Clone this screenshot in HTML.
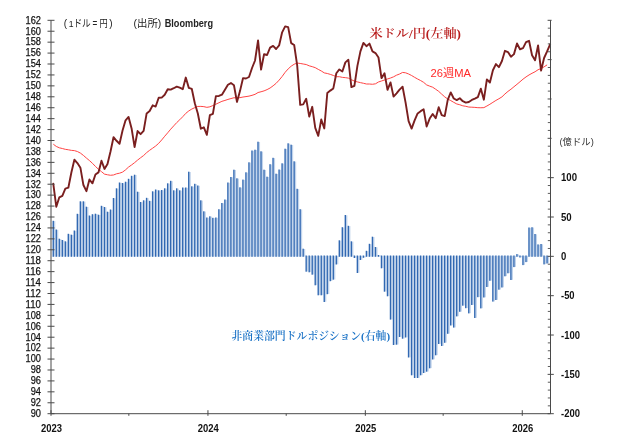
<!DOCTYPE html>
<html lang="ja"><head><meta charset="utf-8"><title>米ドル/円と非商業部門ドルポジション</title>
<style>html,body{margin:0;padding:0;background:#fff}svg{display:block}</style></head>
<body>
<svg width="624" height="439" viewBox="0 0 624 439">
<rect width="624" height="439" fill="#fff"/>
<g id="bars">
<rect x="53.90" y="221.10" width="1.4" height="35.50" fill="#c2d4eb"/>
<rect x="52.55" y="220.80" width="1.4" height="36.00" fill="#3168b2"/>
<rect x="56.91" y="229.80" width="1.4" height="26.80" fill="#c2d4eb"/>
<rect x="55.56" y="229.50" width="1.4" height="27.30" fill="#3168b2"/>
<rect x="59.92" y="239.00" width="1.4" height="17.60" fill="#c2d4eb"/>
<rect x="58.57" y="238.70" width="1.4" height="18.10" fill="#3168b2"/>
<rect x="62.93" y="240.30" width="1.4" height="16.30" fill="#c2d4eb"/>
<rect x="61.58" y="240.00" width="1.4" height="16.80" fill="#3168b2"/>
<rect x="65.94" y="241.60" width="1.4" height="15.00" fill="#c2d4eb"/>
<rect x="64.59" y="241.30" width="1.4" height="15.50" fill="#3168b2"/>
<rect x="68.95" y="234.10" width="1.4" height="22.50" fill="#c2d4eb"/>
<rect x="67.60" y="233.80" width="1.4" height="23.00" fill="#3168b2"/>
<rect x="71.97" y="235.00" width="1.4" height="21.60" fill="#c2d4eb"/>
<rect x="70.62" y="234.70" width="1.4" height="22.10" fill="#3168b2"/>
<rect x="74.98" y="230.80" width="1.4" height="25.80" fill="#c2d4eb"/>
<rect x="73.63" y="230.50" width="1.4" height="26.30" fill="#3168b2"/>
<rect x="77.99" y="214.10" width="1.4" height="42.50" fill="#c2d4eb"/>
<rect x="76.64" y="213.80" width="1.4" height="43.00" fill="#3168b2"/>
<rect x="81.00" y="201.60" width="1.4" height="55.00" fill="#c2d4eb"/>
<rect x="79.65" y="201.30" width="1.4" height="55.50" fill="#3168b2"/>
<rect x="84.01" y="201.60" width="1.4" height="55.00" fill="#c2d4eb"/>
<rect x="82.66" y="201.30" width="1.4" height="55.50" fill="#3168b2"/>
<rect x="87.02" y="207.00" width="1.4" height="49.60" fill="#c2d4eb"/>
<rect x="85.67" y="206.70" width="1.4" height="50.10" fill="#3168b2"/>
<rect x="90.03" y="215.80" width="1.4" height="40.80" fill="#c2d4eb"/>
<rect x="88.68" y="215.50" width="1.4" height="41.30" fill="#3168b2"/>
<rect x="93.04" y="214.50" width="1.4" height="42.10" fill="#c2d4eb"/>
<rect x="91.69" y="214.20" width="1.4" height="42.60" fill="#3168b2"/>
<rect x="96.05" y="214.00" width="1.4" height="42.60" fill="#c2d4eb"/>
<rect x="94.70" y="213.70" width="1.4" height="43.10" fill="#3168b2"/>
<rect x="99.06" y="215.00" width="1.4" height="41.60" fill="#c2d4eb"/>
<rect x="97.72" y="214.70" width="1.4" height="42.10" fill="#3168b2"/>
<rect x="102.08" y="206.10" width="1.4" height="50.50" fill="#c2d4eb"/>
<rect x="100.73" y="205.80" width="1.4" height="51.00" fill="#3168b2"/>
<rect x="105.09" y="207.30" width="1.4" height="49.30" fill="#c2d4eb"/>
<rect x="103.74" y="207.00" width="1.4" height="49.80" fill="#3168b2"/>
<rect x="108.10" y="212.00" width="1.4" height="44.60" fill="#c2d4eb"/>
<rect x="106.75" y="211.70" width="1.4" height="45.10" fill="#3168b2"/>
<rect x="111.11" y="209.80" width="1.4" height="46.80" fill="#c2d4eb"/>
<rect x="109.76" y="209.50" width="1.4" height="47.30" fill="#3168b2"/>
<rect x="114.12" y="198.30" width="1.4" height="58.30" fill="#c2d4eb"/>
<rect x="112.77" y="198.00" width="1.4" height="58.80" fill="#3168b2"/>
<rect x="117.13" y="188.60" width="1.4" height="68.00" fill="#c2d4eb"/>
<rect x="115.78" y="188.30" width="1.4" height="68.50" fill="#3168b2"/>
<rect x="120.14" y="182.80" width="1.4" height="73.80" fill="#c2d4eb"/>
<rect x="118.79" y="182.50" width="1.4" height="74.30" fill="#3168b2"/>
<rect x="123.15" y="183.30" width="1.4" height="73.30" fill="#c2d4eb"/>
<rect x="121.80" y="183.00" width="1.4" height="73.80" fill="#3168b2"/>
<rect x="126.16" y="182.00" width="1.4" height="74.60" fill="#c2d4eb"/>
<rect x="124.81" y="181.70" width="1.4" height="75.10" fill="#3168b2"/>
<rect x="129.17" y="179.10" width="1.4" height="77.50" fill="#c2d4eb"/>
<rect x="127.82" y="178.80" width="1.4" height="78.00" fill="#3168b2"/>
<rect x="132.19" y="176.10" width="1.4" height="80.50" fill="#c2d4eb"/>
<rect x="130.84" y="175.80" width="1.4" height="81.00" fill="#3168b2"/>
<rect x="135.20" y="175.00" width="1.4" height="81.60" fill="#c2d4eb"/>
<rect x="133.85" y="174.70" width="1.4" height="82.10" fill="#3168b2"/>
<rect x="138.21" y="192.00" width="1.4" height="64.60" fill="#c2d4eb"/>
<rect x="136.86" y="191.70" width="1.4" height="65.10" fill="#3168b2"/>
<rect x="141.22" y="202.30" width="1.4" height="54.30" fill="#c2d4eb"/>
<rect x="139.87" y="202.00" width="1.4" height="54.80" fill="#3168b2"/>
<rect x="144.23" y="200.60" width="1.4" height="56.00" fill="#c2d4eb"/>
<rect x="142.88" y="200.30" width="1.4" height="56.50" fill="#3168b2"/>
<rect x="147.24" y="198.10" width="1.4" height="58.50" fill="#c2d4eb"/>
<rect x="145.89" y="197.80" width="1.4" height="59.00" fill="#3168b2"/>
<rect x="150.25" y="201.10" width="1.4" height="55.50" fill="#c2d4eb"/>
<rect x="148.90" y="200.80" width="1.4" height="56.00" fill="#3168b2"/>
<rect x="153.26" y="191.60" width="1.4" height="65.00" fill="#c2d4eb"/>
<rect x="151.91" y="191.30" width="1.4" height="65.50" fill="#3168b2"/>
<rect x="156.27" y="189.80" width="1.4" height="66.80" fill="#c2d4eb"/>
<rect x="154.92" y="189.50" width="1.4" height="67.30" fill="#3168b2"/>
<rect x="159.28" y="190.60" width="1.4" height="66.00" fill="#c2d4eb"/>
<rect x="157.94" y="190.30" width="1.4" height="66.50" fill="#3168b2"/>
<rect x="162.30" y="190.30" width="1.4" height="66.30" fill="#c2d4eb"/>
<rect x="160.95" y="190.00" width="1.4" height="66.80" fill="#3168b2"/>
<rect x="165.31" y="188.60" width="1.4" height="68.00" fill="#c2d4eb"/>
<rect x="163.96" y="188.30" width="1.4" height="68.50" fill="#3168b2"/>
<rect x="168.32" y="183.60" width="1.4" height="73.00" fill="#c2d4eb"/>
<rect x="166.97" y="183.30" width="1.4" height="73.50" fill="#3168b2"/>
<rect x="171.33" y="181.10" width="1.4" height="75.50" fill="#c2d4eb"/>
<rect x="169.98" y="180.80" width="1.4" height="76.00" fill="#3168b2"/>
<rect x="174.34" y="190.60" width="1.4" height="66.00" fill="#c2d4eb"/>
<rect x="172.99" y="190.30" width="1.4" height="66.50" fill="#3168b2"/>
<rect x="177.35" y="188.60" width="1.4" height="68.00" fill="#c2d4eb"/>
<rect x="176.00" y="188.30" width="1.4" height="68.50" fill="#3168b2"/>
<rect x="180.36" y="190.60" width="1.4" height="66.00" fill="#c2d4eb"/>
<rect x="179.01" y="190.30" width="1.4" height="66.50" fill="#3168b2"/>
<rect x="183.37" y="187.80" width="1.4" height="68.80" fill="#c2d4eb"/>
<rect x="182.02" y="187.50" width="1.4" height="69.30" fill="#3168b2"/>
<rect x="186.38" y="187.80" width="1.4" height="68.80" fill="#c2d4eb"/>
<rect x="185.03" y="187.50" width="1.4" height="69.30" fill="#3168b2"/>
<rect x="189.40" y="172.00" width="1.4" height="84.60" fill="#c2d4eb"/>
<rect x="188.05" y="171.70" width="1.4" height="85.10" fill="#3168b2"/>
<rect x="192.41" y="186.60" width="1.4" height="70.00" fill="#c2d4eb"/>
<rect x="191.06" y="186.30" width="1.4" height="70.50" fill="#3168b2"/>
<rect x="195.42" y="184.10" width="1.4" height="72.50" fill="#c2d4eb"/>
<rect x="194.07" y="183.80" width="1.4" height="73.00" fill="#3168b2"/>
<rect x="198.43" y="185.80" width="1.4" height="70.80" fill="#c2d4eb"/>
<rect x="197.08" y="185.50" width="1.4" height="71.30" fill="#3168b2"/>
<rect x="201.44" y="200.60" width="1.4" height="56.00" fill="#c2d4eb"/>
<rect x="200.09" y="200.30" width="1.4" height="56.50" fill="#3168b2"/>
<rect x="204.45" y="211.60" width="1.4" height="45.00" fill="#c2d4eb"/>
<rect x="203.10" y="211.30" width="1.4" height="45.50" fill="#3168b2"/>
<rect x="207.46" y="217.80" width="1.4" height="38.80" fill="#c2d4eb"/>
<rect x="206.11" y="217.50" width="1.4" height="39.30" fill="#3168b2"/>
<rect x="210.47" y="216.60" width="1.4" height="40.00" fill="#c2d4eb"/>
<rect x="209.12" y="216.30" width="1.4" height="40.50" fill="#3168b2"/>
<rect x="213.48" y="218.10" width="1.4" height="38.50" fill="#c2d4eb"/>
<rect x="212.13" y="217.80" width="1.4" height="39.00" fill="#3168b2"/>
<rect x="216.49" y="217.80" width="1.4" height="38.80" fill="#c2d4eb"/>
<rect x="215.14" y="217.50" width="1.4" height="39.30" fill="#3168b2"/>
<rect x="219.51" y="209.50" width="1.4" height="47.10" fill="#c2d4eb"/>
<rect x="218.16" y="209.20" width="1.4" height="47.60" fill="#3168b2"/>
<rect x="222.52" y="203.30" width="1.4" height="53.30" fill="#c2d4eb"/>
<rect x="221.17" y="203.00" width="1.4" height="53.80" fill="#3168b2"/>
<rect x="225.53" y="199.80" width="1.4" height="56.80" fill="#c2d4eb"/>
<rect x="224.18" y="199.50" width="1.4" height="57.30" fill="#3168b2"/>
<rect x="228.54" y="182.80" width="1.4" height="73.80" fill="#c2d4eb"/>
<rect x="227.19" y="182.50" width="1.4" height="74.30" fill="#3168b2"/>
<rect x="231.55" y="177.30" width="1.4" height="79.30" fill="#c2d4eb"/>
<rect x="230.20" y="177.00" width="1.4" height="79.80" fill="#3168b2"/>
<rect x="234.56" y="170.00" width="1.4" height="86.60" fill="#c2d4eb"/>
<rect x="233.21" y="169.70" width="1.4" height="87.10" fill="#3168b2"/>
<rect x="237.57" y="178.60" width="1.4" height="78.00" fill="#c2d4eb"/>
<rect x="236.22" y="178.30" width="1.4" height="78.50" fill="#3168b2"/>
<rect x="240.58" y="187.60" width="1.4" height="69.00" fill="#c2d4eb"/>
<rect x="239.23" y="187.30" width="1.4" height="69.50" fill="#3168b2"/>
<rect x="243.59" y="179.90" width="1.4" height="76.70" fill="#c2d4eb"/>
<rect x="242.24" y="179.60" width="1.4" height="77.20" fill="#3168b2"/>
<rect x="246.60" y="172.60" width="1.4" height="84.00" fill="#c2d4eb"/>
<rect x="245.25" y="172.30" width="1.4" height="84.50" fill="#3168b2"/>
<rect x="249.61" y="162.60" width="1.4" height="94.00" fill="#c2d4eb"/>
<rect x="248.26" y="162.30" width="1.4" height="94.50" fill="#3168b2"/>
<rect x="252.63" y="150.80" width="1.4" height="105.80" fill="#c2d4eb"/>
<rect x="251.28" y="150.50" width="1.4" height="106.30" fill="#3168b2"/>
<rect x="255.64" y="150.00" width="1.4" height="106.60" fill="#c2d4eb"/>
<rect x="254.29" y="149.70" width="1.4" height="107.10" fill="#3168b2"/>
<rect x="258.65" y="142.00" width="1.4" height="114.60" fill="#c2d4eb"/>
<rect x="257.30" y="141.70" width="1.4" height="115.10" fill="#3168b2"/>
<rect x="261.66" y="151.60" width="1.4" height="105.00" fill="#c2d4eb"/>
<rect x="260.31" y="151.30" width="1.4" height="105.50" fill="#3168b2"/>
<rect x="264.67" y="170.00" width="1.4" height="86.60" fill="#c2d4eb"/>
<rect x="263.32" y="169.70" width="1.4" height="87.10" fill="#3168b2"/>
<rect x="267.68" y="177.00" width="1.4" height="79.60" fill="#c2d4eb"/>
<rect x="266.33" y="176.70" width="1.4" height="80.10" fill="#3168b2"/>
<rect x="270.69" y="164.50" width="1.4" height="92.10" fill="#c2d4eb"/>
<rect x="269.34" y="164.20" width="1.4" height="92.60" fill="#3168b2"/>
<rect x="273.70" y="158.10" width="1.4" height="98.50" fill="#c2d4eb"/>
<rect x="272.35" y="157.80" width="1.4" height="99.00" fill="#3168b2"/>
<rect x="276.71" y="174.00" width="1.4" height="82.60" fill="#c2d4eb"/>
<rect x="275.36" y="173.70" width="1.4" height="83.10" fill="#3168b2"/>
<rect x="279.73" y="169.80" width="1.4" height="86.80" fill="#c2d4eb"/>
<rect x="278.38" y="169.50" width="1.4" height="87.30" fill="#3168b2"/>
<rect x="282.74" y="163.60" width="1.4" height="93.00" fill="#c2d4eb"/>
<rect x="281.39" y="163.30" width="1.4" height="93.50" fill="#3168b2"/>
<rect x="285.75" y="149.00" width="1.4" height="107.60" fill="#c2d4eb"/>
<rect x="284.40" y="148.70" width="1.4" height="108.10" fill="#3168b2"/>
<rect x="288.76" y="143.60" width="1.4" height="113.00" fill="#c2d4eb"/>
<rect x="287.41" y="143.30" width="1.4" height="113.50" fill="#3168b2"/>
<rect x="291.77" y="145.00" width="1.4" height="111.60" fill="#c2d4eb"/>
<rect x="290.42" y="144.70" width="1.4" height="112.10" fill="#3168b2"/>
<rect x="294.78" y="161.60" width="1.4" height="95.00" fill="#c2d4eb"/>
<rect x="293.43" y="161.30" width="1.4" height="95.50" fill="#3168b2"/>
<rect x="297.79" y="189.10" width="1.4" height="67.50" fill="#c2d4eb"/>
<rect x="296.44" y="188.80" width="1.4" height="68.00" fill="#3168b2"/>
<rect x="300.80" y="209.50" width="1.4" height="47.10" fill="#c2d4eb"/>
<rect x="299.45" y="209.20" width="1.4" height="47.60" fill="#3168b2"/>
<rect x="303.81" y="249.00" width="1.4" height="7.60" fill="#c2d4eb"/>
<rect x="302.46" y="248.70" width="1.4" height="8.10" fill="#3168b2"/>
<rect x="306.82" y="255.80" width="1.4" height="15.70" fill="#c2d4eb"/>
<rect x="305.47" y="255.50" width="1.4" height="16.20" fill="#3168b2"/>
<rect x="309.84" y="255.80" width="1.4" height="16.30" fill="#c2d4eb"/>
<rect x="308.49" y="255.50" width="1.4" height="16.80" fill="#3168b2"/>
<rect x="312.85" y="255.80" width="1.4" height="18.70" fill="#c2d4eb"/>
<rect x="311.50" y="255.50" width="1.4" height="19.20" fill="#3168b2"/>
<rect x="315.86" y="255.80" width="1.4" height="29.30" fill="#c2d4eb"/>
<rect x="314.51" y="255.50" width="1.4" height="29.80" fill="#3168b2"/>
<rect x="318.87" y="255.80" width="1.4" height="39.30" fill="#c2d4eb"/>
<rect x="317.52" y="255.50" width="1.4" height="39.80" fill="#3168b2"/>
<rect x="321.88" y="255.80" width="1.4" height="39.30" fill="#c2d4eb"/>
<rect x="320.53" y="255.50" width="1.4" height="39.80" fill="#3168b2"/>
<rect x="324.89" y="255.80" width="1.4" height="46.00" fill="#c2d4eb"/>
<rect x="323.54" y="255.50" width="1.4" height="46.50" fill="#3168b2"/>
<rect x="327.90" y="255.80" width="1.4" height="38.20" fill="#c2d4eb"/>
<rect x="326.55" y="255.50" width="1.4" height="38.70" fill="#3168b2"/>
<rect x="330.91" y="255.80" width="1.4" height="25.20" fill="#c2d4eb"/>
<rect x="329.56" y="255.50" width="1.4" height="25.70" fill="#3168b2"/>
<rect x="333.92" y="255.80" width="1.4" height="23.70" fill="#c2d4eb"/>
<rect x="332.57" y="255.50" width="1.4" height="24.20" fill="#3168b2"/>
<rect x="336.93" y="255.80" width="1.4" height="8.50" fill="#c2d4eb"/>
<rect x="335.58" y="255.50" width="1.4" height="9.00" fill="#3168b2"/>
<rect x="339.95" y="240.60" width="1.4" height="16.00" fill="#c2d4eb"/>
<rect x="338.60" y="240.30" width="1.4" height="16.50" fill="#3168b2"/>
<rect x="342.96" y="227.50" width="1.4" height="29.10" fill="#c2d4eb"/>
<rect x="341.61" y="227.20" width="1.4" height="29.60" fill="#3168b2"/>
<rect x="345.97" y="215.30" width="1.4" height="41.30" fill="#c2d4eb"/>
<rect x="344.62" y="215.00" width="1.4" height="41.80" fill="#3168b2"/>
<rect x="348.98" y="226.10" width="1.4" height="30.50" fill="#c2d4eb"/>
<rect x="347.63" y="225.80" width="1.4" height="31.00" fill="#3168b2"/>
<rect x="351.99" y="241.60" width="1.4" height="15.00" fill="#c2d4eb"/>
<rect x="350.64" y="241.30" width="1.4" height="15.50" fill="#3168b2"/>
<rect x="355.00" y="255.80" width="1.4" height="2.00" fill="#c2d4eb"/>
<rect x="353.65" y="255.50" width="1.4" height="2.50" fill="#3168b2"/>
<rect x="358.01" y="255.80" width="1.4" height="17.00" fill="#c2d4eb"/>
<rect x="356.66" y="255.50" width="1.4" height="17.50" fill="#3168b2"/>
<rect x="361.02" y="255.80" width="1.4" height="4.00" fill="#c2d4eb"/>
<rect x="359.67" y="255.50" width="1.4" height="4.50" fill="#3168b2"/>
<rect x="364.03" y="255.80" width="1.4" height="1.80" fill="#c2d4eb"/>
<rect x="362.68" y="255.50" width="1.4" height="2.30" fill="#3168b2"/>
<rect x="367.04" y="251.10" width="1.4" height="5.50" fill="#c2d4eb"/>
<rect x="365.69" y="250.80" width="1.4" height="6.00" fill="#3168b2"/>
<rect x="370.06" y="244.10" width="1.4" height="12.50" fill="#c2d4eb"/>
<rect x="368.71" y="243.80" width="1.4" height="13.00" fill="#3168b2"/>
<rect x="373.07" y="237.00" width="1.4" height="19.60" fill="#c2d4eb"/>
<rect x="371.72" y="236.70" width="1.4" height="20.10" fill="#3168b2"/>
<rect x="376.08" y="247.30" width="1.4" height="9.30" fill="#c2d4eb"/>
<rect x="374.73" y="247.00" width="1.4" height="9.80" fill="#3168b2"/>
<rect x="379.09" y="255.30" width="1.4" height="1.30" fill="#c2d4eb"/>
<rect x="377.74" y="255.00" width="1.4" height="1.80" fill="#3168b2"/>
<rect x="382.10" y="255.80" width="1.4" height="12.30" fill="#c2d4eb"/>
<rect x="380.75" y="255.50" width="1.4" height="12.80" fill="#3168b2"/>
<rect x="385.11" y="255.80" width="1.4" height="35.70" fill="#c2d4eb"/>
<rect x="383.76" y="255.50" width="1.4" height="36.20" fill="#3168b2"/>
<rect x="388.12" y="255.80" width="1.4" height="40.30" fill="#c2d4eb"/>
<rect x="386.77" y="255.50" width="1.4" height="40.80" fill="#3168b2"/>
<rect x="391.13" y="255.80" width="1.4" height="63.60" fill="#c2d4eb"/>
<rect x="389.78" y="255.50" width="1.4" height="64.10" fill="#3168b2"/>
<rect x="394.14" y="255.80" width="1.4" height="89.00" fill="#c2d4eb"/>
<rect x="392.79" y="255.50" width="1.4" height="89.50" fill="#3168b2"/>
<rect x="397.15" y="255.80" width="1.4" height="88.70" fill="#c2d4eb"/>
<rect x="395.80" y="255.50" width="1.4" height="89.20" fill="#3168b2"/>
<rect x="400.17" y="255.80" width="1.4" height="81.00" fill="#c2d4eb"/>
<rect x="398.81" y="255.50" width="1.4" height="81.50" fill="#3168b2"/>
<rect x="403.18" y="255.80" width="1.4" height="82.70" fill="#c2d4eb"/>
<rect x="401.83" y="255.50" width="1.4" height="83.20" fill="#3168b2"/>
<rect x="406.19" y="255.80" width="1.4" height="81.50" fill="#c2d4eb"/>
<rect x="404.84" y="255.50" width="1.4" height="82.00" fill="#3168b2"/>
<rect x="409.20" y="255.80" width="1.4" height="101.50" fill="#c2d4eb"/>
<rect x="407.85" y="255.50" width="1.4" height="102.00" fill="#3168b2"/>
<rect x="412.21" y="255.80" width="1.4" height="119.30" fill="#c2d4eb"/>
<rect x="410.86" y="255.50" width="1.4" height="119.80" fill="#3168b2"/>
<rect x="415.22" y="255.80" width="1.4" height="122.00" fill="#c2d4eb"/>
<rect x="413.87" y="255.50" width="1.4" height="122.50" fill="#3168b2"/>
<rect x="418.23" y="255.80" width="1.4" height="122.00" fill="#c2d4eb"/>
<rect x="416.88" y="255.50" width="1.4" height="122.50" fill="#3168b2"/>
<rect x="421.24" y="255.80" width="1.4" height="119.30" fill="#c2d4eb"/>
<rect x="419.89" y="255.50" width="1.4" height="119.80" fill="#3168b2"/>
<rect x="424.25" y="255.80" width="1.4" height="117.00" fill="#c2d4eb"/>
<rect x="422.90" y="255.50" width="1.4" height="117.50" fill="#3168b2"/>
<rect x="427.26" y="255.80" width="1.4" height="115.70" fill="#c2d4eb"/>
<rect x="425.91" y="255.50" width="1.4" height="116.20" fill="#3168b2"/>
<rect x="430.28" y="255.80" width="1.4" height="112.30" fill="#c2d4eb"/>
<rect x="428.93" y="255.50" width="1.4" height="112.80" fill="#3168b2"/>
<rect x="433.29" y="255.80" width="1.4" height="103.50" fill="#c2d4eb"/>
<rect x="431.94" y="255.50" width="1.4" height="104.00" fill="#3168b2"/>
<rect x="436.30" y="255.80" width="1.4" height="99.30" fill="#c2d4eb"/>
<rect x="434.95" y="255.50" width="1.4" height="99.80" fill="#3168b2"/>
<rect x="439.31" y="255.80" width="1.4" height="88.00" fill="#c2d4eb"/>
<rect x="437.96" y="255.50" width="1.4" height="88.50" fill="#3168b2"/>
<rect x="442.32" y="255.80" width="1.4" height="90.00" fill="#c2d4eb"/>
<rect x="440.97" y="255.50" width="1.4" height="90.50" fill="#3168b2"/>
<rect x="445.33" y="255.80" width="1.4" height="86.80" fill="#c2d4eb"/>
<rect x="443.98" y="255.50" width="1.4" height="87.30" fill="#3168b2"/>
<rect x="448.34" y="255.80" width="1.4" height="77.80" fill="#c2d4eb"/>
<rect x="446.99" y="255.50" width="1.4" height="78.30" fill="#3168b2"/>
<rect x="451.35" y="255.80" width="1.4" height="69.50" fill="#c2d4eb"/>
<rect x="450.00" y="255.50" width="1.4" height="70.00" fill="#3168b2"/>
<rect x="454.36" y="255.80" width="1.4" height="71.60" fill="#c2d4eb"/>
<rect x="453.01" y="255.50" width="1.4" height="72.10" fill="#3168b2"/>
<rect x="457.37" y="255.80" width="1.4" height="60.40" fill="#c2d4eb"/>
<rect x="456.02" y="255.50" width="1.4" height="60.90" fill="#3168b2"/>
<rect x="460.39" y="255.80" width="1.4" height="55.80" fill="#c2d4eb"/>
<rect x="459.04" y="255.50" width="1.4" height="56.30" fill="#3168b2"/>
<rect x="463.40" y="255.80" width="1.4" height="49.70" fill="#c2d4eb"/>
<rect x="462.05" y="255.50" width="1.4" height="50.20" fill="#3168b2"/>
<rect x="466.41" y="255.80" width="1.4" height="52.20" fill="#c2d4eb"/>
<rect x="465.06" y="255.50" width="1.4" height="52.70" fill="#3168b2"/>
<rect x="469.42" y="255.80" width="1.4" height="57.40" fill="#c2d4eb"/>
<rect x="468.07" y="255.50" width="1.4" height="57.90" fill="#3168b2"/>
<rect x="472.43" y="255.80" width="1.4" height="49.00" fill="#c2d4eb"/>
<rect x="471.08" y="255.50" width="1.4" height="49.50" fill="#3168b2"/>
<rect x="475.44" y="255.80" width="1.4" height="62.00" fill="#c2d4eb"/>
<rect x="474.09" y="255.50" width="1.4" height="62.50" fill="#3168b2"/>
<rect x="478.45" y="255.80" width="1.4" height="41.20" fill="#c2d4eb"/>
<rect x="477.10" y="255.50" width="1.4" height="41.70" fill="#3168b2"/>
<rect x="481.46" y="255.80" width="1.4" height="52.40" fill="#c2d4eb"/>
<rect x="480.11" y="255.50" width="1.4" height="52.90" fill="#3168b2"/>
<rect x="484.47" y="255.80" width="1.4" height="41.50" fill="#c2d4eb"/>
<rect x="483.12" y="255.50" width="1.4" height="42.00" fill="#3168b2"/>
<rect x="487.48" y="255.80" width="1.4" height="31.00" fill="#c2d4eb"/>
<rect x="486.13" y="255.50" width="1.4" height="31.50" fill="#3168b2"/>
<rect x="490.50" y="255.80" width="1.4" height="24.80" fill="#c2d4eb"/>
<rect x="489.15" y="255.50" width="1.4" height="25.30" fill="#3168b2"/>
<rect x="493.51" y="255.80" width="1.4" height="45.60" fill="#c2d4eb"/>
<rect x="492.16" y="255.50" width="1.4" height="46.10" fill="#3168b2"/>
<rect x="496.52" y="255.80" width="1.4" height="44.00" fill="#c2d4eb"/>
<rect x="495.17" y="255.50" width="1.4" height="44.50" fill="#3168b2"/>
<rect x="499.53" y="255.80" width="1.4" height="33.70" fill="#c2d4eb"/>
<rect x="498.18" y="255.50" width="1.4" height="34.20" fill="#3168b2"/>
<rect x="502.54" y="255.80" width="1.4" height="31.50" fill="#c2d4eb"/>
<rect x="501.19" y="255.50" width="1.4" height="32.00" fill="#3168b2"/>
<rect x="505.55" y="255.80" width="1.4" height="20.30" fill="#c2d4eb"/>
<rect x="504.20" y="255.50" width="1.4" height="20.80" fill="#3168b2"/>
<rect x="508.56" y="255.80" width="1.4" height="17.30" fill="#c2d4eb"/>
<rect x="507.21" y="255.50" width="1.4" height="17.80" fill="#3168b2"/>
<rect x="511.57" y="255.80" width="1.4" height="24.00" fill="#c2d4eb"/>
<rect x="510.22" y="255.50" width="1.4" height="24.50" fill="#3168b2"/>
<rect x="514.58" y="255.80" width="1.4" height="11.10" fill="#c2d4eb"/>
<rect x="513.23" y="255.50" width="1.4" height="11.60" fill="#3168b2"/>
<rect x="517.59" y="254.40" width="1.4" height="2.20" fill="#c2d4eb"/>
<rect x="516.24" y="254.10" width="1.4" height="2.70" fill="#3168b2"/>
<rect x="520.61" y="255.80" width="1.4" height="1.50" fill="#c2d4eb"/>
<rect x="519.25" y="255.50" width="1.4" height="2.00" fill="#3168b2"/>
<rect x="523.62" y="255.80" width="1.4" height="9.10" fill="#c2d4eb"/>
<rect x="522.27" y="255.50" width="1.4" height="9.60" fill="#3168b2"/>
<rect x="526.63" y="255.80" width="1.4" height="6.10" fill="#c2d4eb"/>
<rect x="525.28" y="255.50" width="1.4" height="6.60" fill="#3168b2"/>
<rect x="529.64" y="227.80" width="1.4" height="28.80" fill="#c2d4eb"/>
<rect x="528.29" y="227.50" width="1.4" height="29.30" fill="#3168b2"/>
<rect x="532.65" y="227.55" width="1.4" height="29.05" fill="#c2d4eb"/>
<rect x="531.30" y="227.25" width="1.4" height="29.55" fill="#3168b2"/>
<rect x="535.66" y="234.30" width="1.4" height="22.30" fill="#c2d4eb"/>
<rect x="534.31" y="234.00" width="1.4" height="22.80" fill="#3168b2"/>
<rect x="538.67" y="244.70" width="1.4" height="11.90" fill="#c2d4eb"/>
<rect x="537.32" y="244.40" width="1.4" height="12.40" fill="#3168b2"/>
<rect x="541.68" y="244.30" width="1.4" height="12.30" fill="#c2d4eb"/>
<rect x="540.33" y="244.00" width="1.4" height="12.80" fill="#3168b2"/>
<rect x="544.69" y="255.80" width="1.4" height="8.40" fill="#c2d4eb"/>
<rect x="543.34" y="255.50" width="1.4" height="8.90" fill="#3168b2"/>
<rect x="547.70" y="255.80" width="1.4" height="7.50" fill="#c2d4eb"/>
<rect x="546.35" y="255.50" width="1.4" height="8.00" fill="#3168b2"/>
</g>
<polyline points="53.30,144.19 56.31,146.44 59.32,147.81 62.33,148.52 65.34,149.32 68.35,149.77 71.37,150.36 74.38,150.61 77.39,151.52 80.40,153.08 83.41,155.41 86.42,158.06 89.43,160.55 92.44,163.30 95.45,166.43 98.47,169.26 101.48,171.64 104.49,174.12 107.50,174.78 110.51,175.28 113.52,174.98 116.53,173.80 119.54,173.20 122.55,172.10 125.56,169.84 128.57,167.06 131.59,164.94 134.60,162.64 137.61,160.09 140.62,157.72 143.63,155.50 146.64,152.64 149.65,150.28 152.66,148.18 155.67,146.01 158.69,143.32 161.70,139.96 164.71,136.25 167.72,132.78 170.73,129.17 173.74,125.86 176.75,122.56 179.76,119.75 182.77,116.69 185.78,113.36 188.80,110.91 191.81,109.05 194.82,107.61 197.83,106.44 200.84,106.38 203.85,106.65 206.86,107.33 209.87,106.82 212.88,105.55 215.89,104.20 218.91,102.74 221.92,101.34 224.93,100.43 227.94,99.42 230.95,98.57 233.96,97.75 236.97,97.91 239.98,97.66 242.99,97.02 246.00,96.60 249.01,96.12 252.03,95.34 255.04,94.34 258.05,92.52 261.06,91.76 264.07,90.87 267.08,89.60 270.09,88.01 273.10,85.81 276.11,83.33 279.12,80.13 282.14,76.47 285.15,72.30 288.16,68.91 291.17,66.19 294.18,64.23 297.19,63.05 300.20,63.44 303.21,64.00 306.22,64.54 309.24,65.83 312.25,66.66 315.26,67.66 318.27,69.38 321.28,70.97 324.29,72.89 327.30,73.51 330.31,74.38 333.32,75.45 336.33,76.71 339.35,76.71 342.36,77.37 345.37,77.65 348.38,78.12 351.39,79.70 354.40,81.12 357.41,81.91 360.42,82.64 363.43,83.27 366.44,84.01 369.46,84.03 372.47,84.28 375.48,83.81 378.49,81.99 381.50,80.98 384.51,79.99 387.52,78.96 390.53,78.03 393.54,76.82 396.55,75.18 399.56,74.03 402.58,72.43 405.59,72.80 408.60,73.98 411.61,75.52 414.62,77.34 417.63,79.03 420.64,80.56 423.65,82.36 426.66,84.93 429.68,86.14 432.69,87.22 435.70,89.24 438.71,91.38 441.72,94.16 444.73,96.85 447.74,99.01 450.75,100.59 453.76,102.33 456.77,103.97 459.79,104.74 462.80,105.82 465.81,106.31 468.82,107.06 471.83,107.19 474.84,107.39 477.85,107.68 480.86,107.75 483.87,107.64 486.88,106.03 489.90,104.26 492.91,102.33 495.92,100.43 498.93,98.74 501.94,96.88 504.95,93.97 507.96,91.41 510.97,89.21 513.98,86.74 516.99,84.29 520.00,81.76 523.02,79.15 526.03,76.93 529.04,74.94 532.05,73.28 535.06,71.75 538.07,69.72 541.08,68.54 544.09,66.82 547.10,64.88" fill="none" stroke="#f44" stroke-width="1" stroke-linejoin="round"/>
<polyline points="53.30,183.78 56.31,206.78 59.32,197.33 62.33,195.80 65.34,188.64 68.35,187.71 71.37,172.47 74.38,159.74 77.39,163.07 80.40,167.66 83.41,185.04 86.42,191.16 89.43,179.52 92.44,183.34 95.45,174.44 98.47,172.41 101.48,160.72 104.49,168.92 107.50,164.00 110.51,151.54 113.52,137.23 116.53,140.78 119.54,143.78 122.55,130.56 125.56,120.29 128.57,116.96 131.59,128.43 134.60,147.06 137.61,131.05 140.62,134.17 143.63,130.89 146.64,113.40 149.65,111.06 152.66,105.32 155.67,106.52 158.69,97.72 161.70,97.61 164.71,94.77 167.72,89.31 170.73,89.58 173.74,88.22 176.75,86.63 179.76,87.72 182.77,89.20 185.78,77.56 188.80,87.89 191.81,88.93 194.82,103.24 197.83,113.46 200.84,128.76 203.85,127.34 206.86,134.82 209.87,115.21 212.88,113.84 215.89,96.14 218.91,95.97 221.92,94.72 224.93,89.75 227.94,84.72 230.95,83.08 233.96,85.21 236.97,101.93 239.98,91.11 242.99,78.16 246.00,78.49 249.01,77.02 252.03,68.00 255.04,60.51 258.05,40.35 261.06,69.58 264.07,54.29 267.08,55.00 270.09,47.67 273.10,45.93 276.11,48.99 279.12,45.43 282.14,32.32 285.15,26.42 288.16,27.13 291.17,43.08 294.18,45.00 297.19,65.32 300.20,104.83 303.21,104.39 306.22,98.82 309.24,116.63 312.25,106.79 315.26,127.94 318.27,135.86 321.28,119.47 324.29,128.43 327.30,92.97 330.31,90.62 333.32,88.43 336.33,73.25 339.35,69.42 342.36,71.44 345.37,62.37 348.38,59.75 351.39,87.12 354.40,85.87 357.41,65.92 360.42,51.39 363.43,42.87 366.44,46.20 369.46,43.63 372.47,51.44 375.48,53.08 378.49,57.51 381.50,78.16 384.51,73.25 387.52,89.86 390.53,82.42 393.54,96.58 396.55,93.30 399.56,89.58 402.58,86.74 405.59,102.64 408.60,121.16 411.61,128.59 414.62,120.45 417.63,113.40 420.64,111.16 423.65,109.36 426.66,126.52 429.68,118.54 432.69,114.01 435.70,118.27 438.71,107.23 441.72,115.10 444.73,116.08 447.74,99.91 450.75,92.37 453.76,98.49 456.77,100.07 459.79,98.22 462.80,101.22 465.81,102.59 468.82,101.99 471.83,99.91 474.84,98.54 477.85,97.07 480.86,88.65 483.87,99.69 486.88,79.36 489.90,82.53 492.91,70.24 495.92,64.07 498.93,67.18 501.94,61.01 504.95,50.84 507.96,52.10 510.97,56.74 513.98,54.12 516.99,43.52 520.00,49.26 523.02,48.17 526.03,42.16 529.04,40.79 532.05,55.27 535.06,60.19 538.07,45.43 541.08,70.57 544.09,58.00 547.10,51.44 550.12,44.34" fill="none" stroke="#7a1f1f" stroke-width="1.9" stroke-linejoin="round" stroke-linecap="round"/>
<g stroke="#4a4a4a" stroke-width="1" fill="none">
<line x1="51.0" y1="20.3" x2="51.0" y2="413.7"/>
<line x1="51.0" y1="413.7" x2="550.5" y2="413.7"/>
<line x1="550.5" y1="20.3" x2="550.5" y2="413.7"/>
<line x1="47.5" y1="413.70" x2="54.5" y2="413.70"/>
<line x1="47.5" y1="402.77" x2="54.5" y2="402.77"/>
<line x1="47.5" y1="391.84" x2="54.5" y2="391.84"/>
<line x1="47.5" y1="380.92" x2="54.5" y2="380.92"/>
<line x1="47.5" y1="369.99" x2="54.5" y2="369.99"/>
<line x1="47.5" y1="359.06" x2="54.5" y2="359.06"/>
<line x1="47.5" y1="348.13" x2="54.5" y2="348.13"/>
<line x1="47.5" y1="337.21" x2="54.5" y2="337.21"/>
<line x1="47.5" y1="326.28" x2="54.5" y2="326.28"/>
<line x1="47.5" y1="315.35" x2="54.5" y2="315.35"/>
<line x1="47.5" y1="304.42" x2="54.5" y2="304.42"/>
<line x1="47.5" y1="293.49" x2="54.5" y2="293.49"/>
<line x1="47.5" y1="282.57" x2="54.5" y2="282.57"/>
<line x1="47.5" y1="271.64" x2="54.5" y2="271.64"/>
<line x1="47.5" y1="260.71" x2="54.5" y2="260.71"/>
<line x1="47.5" y1="249.78" x2="54.5" y2="249.78"/>
<line x1="47.5" y1="238.86" x2="54.5" y2="238.86"/>
<line x1="47.5" y1="227.93" x2="54.5" y2="227.93"/>
<line x1="47.5" y1="217.00" x2="54.5" y2="217.00"/>
<line x1="47.5" y1="206.07" x2="54.5" y2="206.07"/>
<line x1="47.5" y1="195.14" x2="54.5" y2="195.14"/>
<line x1="47.5" y1="184.22" x2="54.5" y2="184.22"/>
<line x1="47.5" y1="173.29" x2="54.5" y2="173.29"/>
<line x1="47.5" y1="162.36" x2="54.5" y2="162.36"/>
<line x1="47.5" y1="151.43" x2="54.5" y2="151.43"/>
<line x1="47.5" y1="140.51" x2="54.5" y2="140.51"/>
<line x1="47.5" y1="129.58" x2="54.5" y2="129.58"/>
<line x1="47.5" y1="118.65" x2="54.5" y2="118.65"/>
<line x1="47.5" y1="107.72" x2="54.5" y2="107.72"/>
<line x1="47.5" y1="96.79" x2="54.5" y2="96.79"/>
<line x1="47.5" y1="85.87" x2="54.5" y2="85.87"/>
<line x1="47.5" y1="74.94" x2="54.5" y2="74.94"/>
<line x1="47.5" y1="64.01" x2="54.5" y2="64.01"/>
<line x1="47.5" y1="53.08" x2="54.5" y2="53.08"/>
<line x1="47.5" y1="42.16" x2="54.5" y2="42.16"/>
<line x1="47.5" y1="31.23" x2="54.5" y2="31.23"/>
<line x1="47.5" y1="20.30" x2="54.5" y2="20.30"/>
<line x1="547.6" y1="413.70" x2="553.8" y2="413.70"/>
<line x1="547.8" y1="405.83" x2="550.5" y2="405.83" stroke-width="0.9"/>
<line x1="547.8" y1="397.96" x2="550.5" y2="397.96" stroke-width="0.9"/>
<line x1="547.8" y1="390.10" x2="550.5" y2="390.10" stroke-width="0.9"/>
<line x1="547.8" y1="382.23" x2="550.5" y2="382.23" stroke-width="0.9"/>
<line x1="547.6" y1="374.36" x2="553.8" y2="374.36"/>
<line x1="547.8" y1="366.49" x2="550.5" y2="366.49" stroke-width="0.9"/>
<line x1="547.8" y1="358.62" x2="550.5" y2="358.62" stroke-width="0.9"/>
<line x1="547.8" y1="350.76" x2="550.5" y2="350.76" stroke-width="0.9"/>
<line x1="547.8" y1="342.89" x2="550.5" y2="342.89" stroke-width="0.9"/>
<line x1="547.6" y1="335.02" x2="553.8" y2="335.02"/>
<line x1="547.8" y1="327.15" x2="550.5" y2="327.15" stroke-width="0.9"/>
<line x1="547.8" y1="319.28" x2="550.5" y2="319.28" stroke-width="0.9"/>
<line x1="547.8" y1="311.42" x2="550.5" y2="311.42" stroke-width="0.9"/>
<line x1="547.8" y1="303.55" x2="550.5" y2="303.55" stroke-width="0.9"/>
<line x1="547.6" y1="295.68" x2="553.8" y2="295.68"/>
<line x1="547.8" y1="287.81" x2="550.5" y2="287.81" stroke-width="0.9"/>
<line x1="547.8" y1="279.94" x2="550.5" y2="279.94" stroke-width="0.9"/>
<line x1="547.8" y1="272.08" x2="550.5" y2="272.08" stroke-width="0.9"/>
<line x1="547.8" y1="264.21" x2="550.5" y2="264.21" stroke-width="0.9"/>
<line x1="547.6" y1="256.34" x2="553.8" y2="256.34"/>
<line x1="547.8" y1="248.47" x2="550.5" y2="248.47" stroke-width="0.9"/>
<line x1="547.8" y1="240.60" x2="550.5" y2="240.60" stroke-width="0.9"/>
<line x1="547.8" y1="232.74" x2="550.5" y2="232.74" stroke-width="0.9"/>
<line x1="547.8" y1="224.87" x2="550.5" y2="224.87" stroke-width="0.9"/>
<line x1="547.6" y1="217.00" x2="553.8" y2="217.00"/>
<line x1="547.8" y1="209.13" x2="550.5" y2="209.13" stroke-width="0.9"/>
<line x1="547.8" y1="201.26" x2="550.5" y2="201.26" stroke-width="0.9"/>
<line x1="547.8" y1="193.40" x2="550.5" y2="193.40" stroke-width="0.9"/>
<line x1="547.8" y1="185.53" x2="550.5" y2="185.53" stroke-width="0.9"/>
<line x1="547.6" y1="177.66" x2="553.8" y2="177.66"/>
<line x1="547.8" y1="169.79" x2="550.5" y2="169.79" stroke-width="0.9"/>
<line x1="547.8" y1="161.92" x2="550.5" y2="161.92" stroke-width="0.9"/>
<line x1="547.8" y1="154.06" x2="550.5" y2="154.06" stroke-width="0.9"/>
<line x1="547.8" y1="146.19" x2="550.5" y2="146.19" stroke-width="0.9"/>
<line x1="547.6" y1="138.32" x2="551.6" y2="138.32"/>
<line x1="547.8" y1="130.45" x2="550.5" y2="130.45" stroke-width="0.9"/>
<line x1="547.8" y1="122.58" x2="550.5" y2="122.58" stroke-width="0.9"/>
<line x1="547.8" y1="114.72" x2="550.5" y2="114.72" stroke-width="0.9"/>
<line x1="547.8" y1="106.85" x2="550.5" y2="106.85" stroke-width="0.9"/>
<line x1="547.6" y1="98.98" x2="551.6" y2="98.98"/>
<line x1="547.8" y1="91.11" x2="550.5" y2="91.11" stroke-width="0.9"/>
<line x1="547.8" y1="83.24" x2="550.5" y2="83.24" stroke-width="0.9"/>
<line x1="547.8" y1="75.38" x2="550.5" y2="75.38" stroke-width="0.9"/>
<line x1="547.8" y1="67.51" x2="550.5" y2="67.51" stroke-width="0.9"/>
<line x1="547.6" y1="59.64" x2="551.6" y2="59.64"/>
<line x1="547.8" y1="51.77" x2="550.5" y2="51.77" stroke-width="0.9"/>
<line x1="547.8" y1="43.90" x2="550.5" y2="43.90" stroke-width="0.9"/>
<line x1="547.8" y1="36.04" x2="550.5" y2="36.04" stroke-width="0.9"/>
<line x1="547.8" y1="28.17" x2="550.5" y2="28.17" stroke-width="0.9"/>
<line x1="547.6" y1="20.30" x2="551.6" y2="20.30"/>
<line x1="51.00" y1="410.2" x2="51.00" y2="415.8"/>
<line x1="207.95" y1="410.2" x2="207.95" y2="415.8"/>
<line x1="365.33" y1="410.2" x2="365.33" y2="415.8"/>
<line x1="522.28" y1="410.2" x2="522.28" y2="415.8"/>
<line x1="128.83" y1="413.7" x2="128.83" y2="415.8"/>
<line x1="286.21" y1="413.7" x2="286.21" y2="415.8"/>
<line x1="443.16" y1="413.7" x2="443.16" y2="415.8"/>
</g>
<g font-family="'Liberation Sans', sans-serif" font-size="11" fill="#111" stroke="#111" stroke-width="0.25" text-anchor="end">
<text x="41.0" y="417.00" textLength="10.3" lengthAdjust="spacingAndGlyphs">90</text>
<text x="41.0" y="406.07" textLength="10.3" lengthAdjust="spacingAndGlyphs">92</text>
<text x="41.0" y="395.14" textLength="10.3" lengthAdjust="spacingAndGlyphs">94</text>
<text x="41.0" y="384.22" textLength="10.3" lengthAdjust="spacingAndGlyphs">96</text>
<text x="41.0" y="373.29" textLength="10.3" lengthAdjust="spacingAndGlyphs">98</text>
<text x="41.0" y="362.36" textLength="15.4" lengthAdjust="spacingAndGlyphs">100</text>
<text x="41.0" y="351.43" textLength="15.4" lengthAdjust="spacingAndGlyphs">102</text>
<text x="41.0" y="340.51" textLength="15.4" lengthAdjust="spacingAndGlyphs">104</text>
<text x="41.0" y="329.58" textLength="15.4" lengthAdjust="spacingAndGlyphs">106</text>
<text x="41.0" y="318.65" textLength="15.4" lengthAdjust="spacingAndGlyphs">108</text>
<text x="41.0" y="307.72" textLength="15.4" lengthAdjust="spacingAndGlyphs">110</text>
<text x="41.0" y="296.79" textLength="15.4" lengthAdjust="spacingAndGlyphs">112</text>
<text x="41.0" y="285.87" textLength="15.4" lengthAdjust="spacingAndGlyphs">114</text>
<text x="41.0" y="274.94" textLength="15.4" lengthAdjust="spacingAndGlyphs">116</text>
<text x="41.0" y="264.01" textLength="15.4" lengthAdjust="spacingAndGlyphs">118</text>
<text x="41.0" y="253.08" textLength="15.4" lengthAdjust="spacingAndGlyphs">120</text>
<text x="41.0" y="242.16" textLength="15.4" lengthAdjust="spacingAndGlyphs">122</text>
<text x="41.0" y="231.23" textLength="15.4" lengthAdjust="spacingAndGlyphs">124</text>
<text x="41.0" y="220.30" textLength="15.4" lengthAdjust="spacingAndGlyphs">126</text>
<text x="41.0" y="209.37" textLength="15.4" lengthAdjust="spacingAndGlyphs">128</text>
<text x="41.0" y="198.44" textLength="15.4" lengthAdjust="spacingAndGlyphs">130</text>
<text x="41.0" y="187.52" textLength="15.4" lengthAdjust="spacingAndGlyphs">132</text>
<text x="41.0" y="176.59" textLength="15.4" lengthAdjust="spacingAndGlyphs">134</text>
<text x="41.0" y="165.66" textLength="15.4" lengthAdjust="spacingAndGlyphs">136</text>
<text x="41.0" y="154.73" textLength="15.4" lengthAdjust="spacingAndGlyphs">138</text>
<text x="41.0" y="143.81" textLength="15.4" lengthAdjust="spacingAndGlyphs">140</text>
<text x="41.0" y="132.88" textLength="15.4" lengthAdjust="spacingAndGlyphs">142</text>
<text x="41.0" y="121.95" textLength="15.4" lengthAdjust="spacingAndGlyphs">144</text>
<text x="41.0" y="111.02" textLength="15.4" lengthAdjust="spacingAndGlyphs">146</text>
<text x="41.0" y="100.09" textLength="15.4" lengthAdjust="spacingAndGlyphs">148</text>
<text x="41.0" y="89.17" textLength="15.4" lengthAdjust="spacingAndGlyphs">150</text>
<text x="41.0" y="78.24" textLength="15.4" lengthAdjust="spacingAndGlyphs">152</text>
<text x="41.0" y="67.31" textLength="15.4" lengthAdjust="spacingAndGlyphs">154</text>
<text x="41.0" y="56.38" textLength="15.4" lengthAdjust="spacingAndGlyphs">156</text>
<text x="41.0" y="45.46" textLength="15.4" lengthAdjust="spacingAndGlyphs">158</text>
<text x="41.0" y="34.53" textLength="15.4" lengthAdjust="spacingAndGlyphs">160</text>
<text x="41.0" y="23.60" textLength="15.4" lengthAdjust="spacingAndGlyphs">162</text>
</g>
<g font-family="'Liberation Sans', sans-serif" font-size="10" font-weight="bold" fill="#111">
<text x="561.0" y="181.26" textLength="16.0" lengthAdjust="spacingAndGlyphs">100</text>
<text x="561.0" y="220.60" textLength="10.7" lengthAdjust="spacingAndGlyphs">50</text>
<text x="561.0" y="259.94" textLength="5.3" lengthAdjust="spacingAndGlyphs">0</text>
<text x="561.0" y="299.28" textLength="13.6" lengthAdjust="spacingAndGlyphs">-50</text>
<text x="561.0" y="338.62" textLength="18.9" lengthAdjust="spacingAndGlyphs">-100</text>
<text x="561.0" y="377.96" textLength="18.9" lengthAdjust="spacingAndGlyphs">-150</text>
<text x="561.0" y="417.30" textLength="18.9" lengthAdjust="spacingAndGlyphs">-200</text>
</g>
<g font-family="'Liberation Sans', sans-serif" font-size="10.5" font-weight="bold" fill="#111" text-anchor="middle">
<text x="51.40" y="432.2" textLength="21" lengthAdjust="spacingAndGlyphs">2023</text>
<text x="208.35" y="432.2" textLength="21" lengthAdjust="spacingAndGlyphs">2024</text>
<text x="365.73" y="432.2" textLength="21" lengthAdjust="spacingAndGlyphs">2025</text>
<text x="522.68" y="432.2" textLength="21" lengthAdjust="spacingAndGlyphs">2026</text>
</g>
<text y="26.6" font-family="'Liberation Sans', 'Noto Sans CJK JP', sans-serif" font-size="10" fill="#222"><tspan x="63.7">(</tspan><tspan x="68.7" font-size="8.6">1</tspan><tspan x="73.4" textLength="17.4" lengthAdjust="spacingAndGlyphs">ドル</tspan><tspan x="92.4" textLength="4.8" lengthAdjust="spacingAndGlyphs">=</tspan><tspan x="99.6" textLength="8.2" lengthAdjust="spacingAndGlyphs">円</tspan><tspan x="109.2">)</tspan></text>
<text x="133.5" y="26.8" font-family="'Liberation Sans', 'Noto Sans CJK JP', sans-serif" font-size="10.5" fill="#222" textLength="27.8" lengthAdjust="spacingAndGlyphs">(出所)</text>
<text x="164.7" y="26.6" font-family="'Liberation Sans', sans-serif" font-size="10.5" font-weight="bold" fill="#222" textLength="48.3" lengthAdjust="spacingAndGlyphs">Bloomberg</text>
<text x="369.4" y="38.2" font-family="'Liberation Serif', 'Noto Serif CJK SC', serif" font-size="12" font-weight="600" fill="#b81c1c" textLength="91.6" lengthAdjust="spacingAndGlyphs">米ドル/円(左軸)</text>
<text x="430.6" y="77.1" font-family="'Liberation Sans', 'Noto Sans CJK JP', sans-serif" font-size="11" fill="#ff2828" textLength="40.4" lengthAdjust="spacingAndGlyphs">26週MA</text>
<text x="559.5" y="145.3" font-family="'Liberation Sans', 'Noto Sans CJK JP', sans-serif" font-size="9.5" fill="#333" textLength="34.3" lengthAdjust="spacingAndGlyphs">(億ドル)</text>
<text x="231.5" y="340.3" font-family="'Liberation Serif', 'Noto Serif CJK SC', serif" font-size="11" font-weight="600" fill="#1a72c6" textLength="158.5" lengthAdjust="spacingAndGlyphs">非商業部門ドルポジション(右軸)</text>
</svg>
</body></html>
